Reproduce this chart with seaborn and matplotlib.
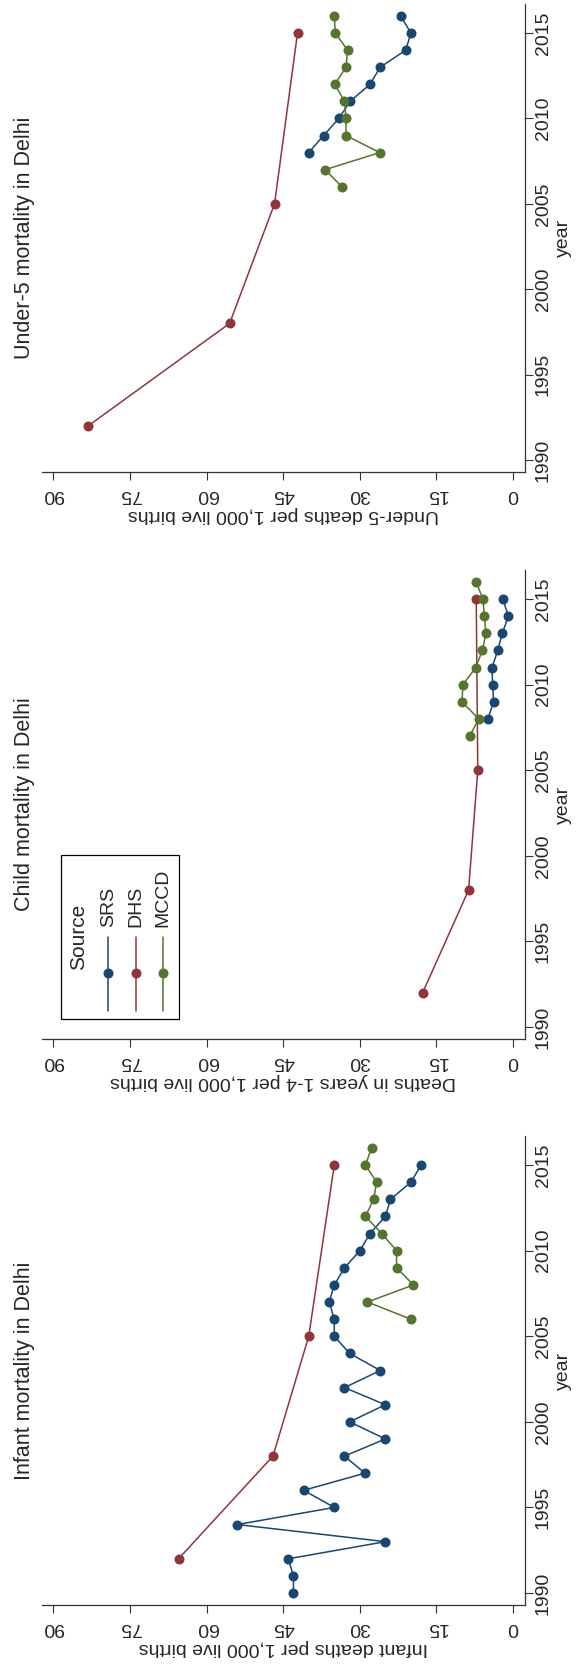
import matplotlib
matplotlib.use("Agg")
import matplotlib.pyplot as plt
from matplotlib.lines import Line2D
from matplotlib.patches import Rectangle
import seaborn as sns

# --- data ---
dhs_years = [1992, 1998, 2005, 2015]

infant_srs_years = list(range(1990, 2016))
infant_srs = [43, 43, 44, 25, 54, 35, 41, 29, 33, 25, 32, 25, 33,
              26, 32, 35, 35, 36, 35, 33, 30, 28, 25, 24, 20, 18]
infant_dhs = [65.5, 47, 40, 35]
infant_mccd_years = list(range(2006, 2017))
infant_mccd = [20, 28.5, 19.5, 22.8, 22.8, 25.7, 28.9, 27.3, 26.7, 28.9, 27.7]

child_srs_years = list(range(2008, 2016))
child_srs = [4.9, 3.8, 4.0, 4.1, 3.0, 2.1, 0.9, 2.0]
child_dhs = [17.7, 8.7, 6.9, 7.2]
child_mccd_years = list(range(2007, 2017))
child_mccd = [8.5, 6.7, 10.0, 9.8, 7.3, 6.0, 5.3, 5.6, 5.9, 7.2]

u5_srs_years = list(range(2008, 2017))
u5_srs = [40.0, 37.1, 34.1, 31.9, 28.0, 26.0, 21.0, 20.0, 22.0]
u5_dhs = [83.2, 55.5, 46.7, 42.2]
u5_mccd_years = list(range(2006, 2017))
u5_mccd = [33.5, 36.8, 26.1, 32.7, 32.7, 33.0, 34.9, 32.7, 32.4, 34.8, 35.0]

sources = ["SRS", "DHS", "MCCD"]
colors = {"SRS": "#1a476f", "DHS": "#90353b", "MCCD": "#55752f"}

panels = [
    ("Under-5 mortality in Delhi", "Under-5 deaths per 1,000 live births",
     (u5_srs_years, u5_srs), (dhs_years, u5_dhs), (u5_mccd_years, u5_mccd)),
    ("Child mortality in Delhi", "Deaths in years 1-4 per 1,000 live births",
     (child_srs_years, child_srs), (dhs_years, child_dhs), (child_mccd_years, child_mccd)),
    ("Infant mortality in Delhi", "Infant deaths per 1,000 live births",
     (infant_srs_years, infant_srs), (dhs_years, infant_dhs), (infant_mccd_years, infant_mccd)),
]

sns.set_style("white")
plt.rcParams['font.family'] = ['Liberation Sans', 'DejaVu Sans']

W, H = 577, 1669
fig = plt.figure(figsize=(W / 100, H / 100), dpi=100)


def fx(px):
    return px / W


def fy(py):
    return 1 - py / H


# panel boxes in pixels: (top, bottom)
boxes = [(4, 472), (570, 1039), (1136, 1605)]
left_px, right_px = 41.7, 525
axis_col = "#333333"

for (top, bot), (title, xlabel, srs, dhs, mccd) in zip(boxes, panels):
    ax = fig.add_axes([fx(left_px), fy(bot), (right_px - left_px) / W, (bot - top) / H])
    for name, (yrs, vals) in zip(sources, [srs, dhs, mccd]):
        sns.lineplot(x=vals, y=yrs, orient="y", ax=ax, color=colors[name],
                     marker="o", markersize=7.2, markeredgewidth=0, linewidth=1.1)

    ax.set_xlim(92.3, -2.35)
    ax.set_ylim(1989.3, 2016.7)
    ax.set_xticks(range(0, 91, 15))
    ax.set_yticks(range(1990, 2016, 5))
    ax.yaxis.tick_right()
    ax.yaxis.set_label_position("right")

    ax.spines[["top", "left"]].set_visible(False)
    for s in ["bottom", "right"]:
        ax.spines[s].set_color(axis_col)
        ax.spines[s].set_linewidth(0.9)

    ax.tick_params(axis="x", labelrotation=180, length=6, width=0.8, color=axis_col,
                   labelsize=14, pad=4, bottom=True)
    ax.tick_params(axis="y", labelrotation=90, length=6, width=0.8, color=axis_col,
                   labelsize=14, pad=1, right=True, left=False)
    for lab in ax.get_yticklabels():
        lab.set_va("center")

    ax.set_xlabel(xlabel, rotation=180, fontsize=14, labelpad=2)
    ax.set_ylabel("year", rotation=90, fontsize=14, labelpad=2)
    ax.text(-0.035, 0.5, title, rotation=90, transform=ax.transAxes,
            ha="center", va="center", fontsize=15.5)

# legend (drawn rotated, inside the child panel)
fig.add_artist(Rectangle((fx(61), fy(1019)), (179 - 61) / W, (1019 - 855) / H,
                         transform=fig.transFigure, fill=False, ec="black", lw=0.9))
fig.text(fx(78.3), fy(937), "Source", rotation=90, ha="center", va="center", fontsize=15)
for name, xc in zip(sources, [108.3, 135.7, 162.7]):
    fig.add_artist(Line2D([fx(xc), fx(xc)], [fy(937), fy(1011)], transform=fig.transFigure,
                          color=colors[name], lw=1.1))
    fig.add_artist(Line2D([fx(xc)], [fy(973.5)], transform=fig.transFigure,
                          color=colors[name], marker="o", ms=7.2, mew=0, lw=0))
    fig.text(fx(xc), fy(927), name, rotation=90, ha="center", va="bottom", fontsize=14)

fig.savefig("out.png", dpi=100)
